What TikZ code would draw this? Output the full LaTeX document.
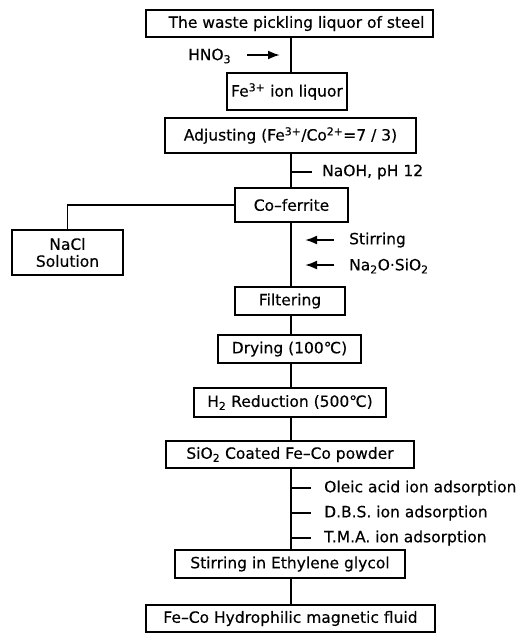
\documentclass[tikz,border=0pt]{standalone}
\usepackage{fontspec}
\setmainfont[FakeBold=0.3]{DejaVu Sans}
\usetikzlibrary{arrows.meta}
\begin{document}
\begin{tikzpicture}[x=1pt,y=-1pt,
  every node/.style={font=\fontsize{15.5}{18}\selectfont},
  box/.style={draw, line width=1.5pt, inner sep=0pt, anchor=center},
  conn/.style={line width=1.5pt},
  addarrow/.style={line width=2pt, -{Latex[length=12pt,width=9pt]}},
  lbl/.style={anchor=west, inner sep=0pt}]
\useasboundingbox (0,0) rectangle (522,633);
\coordinate (spine) at (291,0);
\node[box, minimum width=287pt, minimum height=27pt] (b1) at (289.5,23.5) {\hspace*{14pt}The waste pickling liquor of steel};
\node[box, minimum width=120pt, minimum height=37pt] (b2) at (287,91.5) {Fe\textsuperscript{3+} ion liquor};
\node[box, minimum width=251pt, minimum height=35pt] (b3) at (290.5,135.5) {Adjusting (Fe\textsuperscript{3+}/Co\textsuperscript{2+}=7 / 3)};
\node[box, minimum width=113pt, minimum height=34pt] (b4) at (291.5,205) {Co–ferrite};
\node[box, minimum width=111pt, minimum height=45pt, align=center] (nacl) at (67.5,252.5) {NaCl\\[-1pt]Solution};
\node[box, minimum width=110pt, minimum height=28pt] (b5) at (290,301) {Filtering};
\node[box, minimum width=143pt, minimum height=28pt] (b6) at (289.5,349) {Drying (100℃)};
\node[box, minimum width=192pt, minimum height=29pt] (b7) at (290,402.5) {H\textsubscript{2} Reduction (500℃)};
\node[box, minimum width=248pt, minimum height=27pt] (b8) at (290,454.5) {SiO\textsubscript{2} Coated Fe–Co powder};
\node[box, minimum width=230pt, minimum height=28pt] (b9) at (290,564) {Stirring in Ethylene glycol};
\node[box, minimum width=289pt, minimum height=27pt] (b10) at (290.5,618.5) {Fe–Co Hydrophilic magnetic fluid};

% spine connectors
\draw[conn] (b1.south -| spine) -- (b2.north -| spine);
\draw[conn] (b3.south -| spine) -- (b4.north -| spine);
\draw[conn] (b4.south -| spine) -- (b5.north -| spine);
\draw[conn] (b5.south -| spine) -- (b6.north -| spine);
\draw[conn] (b6.south -| spine) -- (b7.north -| spine);
\draw[conn] (b7.south -| spine) -- (b8.north -| spine);
\draw[conn] (b8.south -| spine) -- (b9.north -| spine);
\draw[conn] (b9.south -| spine) -- (b10.north -| spine);
\draw[conn] (b4.west) -| (nacl.north);

% HNO3
\node[lbl] (hno) at (188,56) {HNO\textsubscript{3}};
\coordinate (hA) at (247,55);
\coordinate (hB) at (280,55);
\draw[addarrow] (hA) -- (hB);

% NaOH
\coordinate (nA) at (291,172);
\coordinate (nB) at (312,172);
\draw[conn] (nA) -- (nB);
\node[lbl] (naoh) at (322,172) {NaOH, pH 12};

% Stirring / Na2O.SiO2
\coordinate (sA) at (334,240);
\coordinate (sB) at (305,240);
\draw[addarrow] (sA) -- (sB);
\node[lbl] (stir) at (349,240) {Stirring};
\coordinate (tA) at (334,265);
\coordinate (tB) at (305,265);
\draw[addarrow] (tA) -- (tB);
\node[lbl] (naos) at (349,266) {Na\textsubscript{2}O·SiO\textsubscript{2}};

% adsorption ticks
\foreach \yy/\nm/\txt in {488/ole/Oleic acid ion adsorption, 513/dbs/D.B.S. ion adsorption, 538/tma/T.M.A. ion adsorption}{
  \coordinate (\nm A) at (291,\yy);
  \coordinate (\nm B) at (311,\yy);
  \draw[conn] (\nm A) -- (\nm B);
  \node[lbl] (\nm) at (324,\yy) {\txt};
}
\end{tikzpicture}
\end{document}
